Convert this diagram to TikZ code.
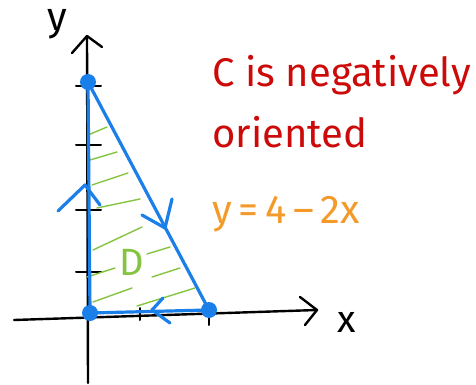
\documentclass[tikz,border=0pt]{standalone}
\usepackage{fontspec}
\setmainfont{Fira Sans}
\definecolor{pblue}{HTML}{1A7FE8}
\definecolor{pred}{HTML}{CC0A0A}
\definecolor{porange}{HTML}{F49A2A}
\definecolor{pgreen}{HTML}{84C441}
\tikzset{
  axisline/.style={line width=2.4pt, black, line cap=round, line join=round},
  curve/.style={line width=3.2pt, pblue, line cap=round, line join=round},
  hatch/.style={line width=1.4pt, pgreen, line cap=round},
  dot/.style={circle, fill=pblue, inner sep=0pt, minimum size=16pt},
  tick/.style={line width=2pt, black, line cap=round},
}
\begin{document}
\begin{tikzpicture}[x=1pt,y=-1pt]
\useasboundingbox (0,0) rectangle (476,385);
% axes
\coordinate (ybot) at (88,383);
\coordinate (ytop) at (87,36);
\coordinate (xleft) at (14,320);
\coordinate (xright) at (317,310);
\draw[axisline] (ybot) -- (ytop);
\draw[axisline] (xleft) -- (xright);
\draw[axisline] (72,53) -- (ytop) -- (102,47);
\draw[axisline] (300,297) -- (xright) -- (305,325);
% ticks
\foreach \t in {86,145,210,272} \draw[tick] (76,\t) -- (101,\t);
\draw[tick] (140,308) -- (140,320);
\draw[tick] (209,316) -- (209,325);
% axis labels
\node[font=\fontsize{40}{40}\selectfont] (ylab) at (57,24) {y};
\node[font=\fontsize{38}{38}\selectfont] (xlab) at (347,322) {x};
% hatching
\foreach \a/\b/\c/\d in {88/135/107/127, 90/160/117/152, 92/185/128/173, 97/208/140/199,
  93/250/142/227, 87/277/115/268, 93/302/132/288, 147/254/170/247, 152/277/180/268, 137/306/195/288}
  \draw[hatch] (\a,\b) -- (\c,\d);
\node[text=pgreen, font=\fontsize{38}{38}\selectfont] (D) at (132,262) {D};
% triangle
\node[dot] (A) at (88,82) {};
\node[dot] (O) at (90,313) {};
\node[dot] (B) at (209,310) {};
\draw[curve] (A.center) -- (B.center) -- (O.center) -- (A.center);
% direction arrows
\draw[curve] (58,211) -- (85,185) -- (100,205);
\draw[curve] (142,215) -- (165,228) -- (172,199);
\draw[curve] (163,298) -- (152,310) -- (170,323);
% text
\node[anchor=base west, text=pred, font=\fontsize{40}{40}\selectfont, inner sep=0pt] (t1) at (212,87) {C is negatively};
\node[anchor=base west, text=pred, font=\fontsize{40}{40}\selectfont, inner sep=0pt] (t2) at (212,147) {oriented};
\node[anchor=base west, text=porange, font=\fontsize{40}{40}\selectfont, inner sep=0pt] (t3) at (212,223) {y\,=\,4\,\textendash\,2x};
\end{tikzpicture}
\end{document}
